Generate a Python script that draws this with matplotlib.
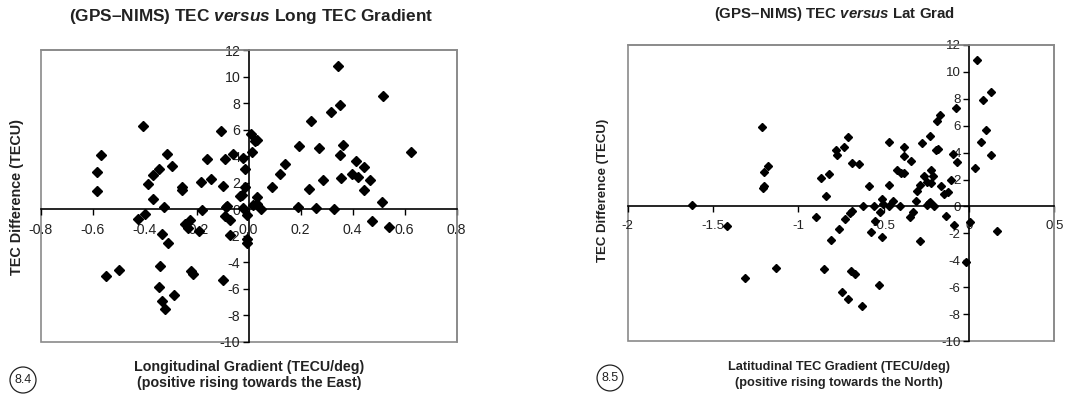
"""Recreate the two (GPS-NIMS) TEC gradient scatter panels."""

import matplotlib.pyplot as plt
from matplotlib.patches import Rectangle

plt.rcParams["font.family"] = ["Liberation Sans", "DejaVu Sans"]
plt.rcParams["mathtext.fontset"] = "custom"
plt.rcParams["mathtext.rm"] = "Liberation Sans:bold"
plt.rcParams["mathtext.it"] = "Liberation Sans:italic:bold"

# Panel 8.4: longitudinal gradient (TECU/deg) vs TEC difference (TECU)
long_grad = [
    0.342, 0.515, 0.351, 0.315, 0.241, -0.408, -0.108, 0.008, 0.026, 0.033,
    0.194, 0.269, 0.362, 0.626, 0.014, -0.568, -0.313, -0.059, 0.350, -0.159,
    -0.091, -0.023, 0.412, 0.140, -0.295, 0.445, -0.346, -0.585, -0.013, 0.121,
    -0.369, 0.399, 0.422, 0.354, 0.286, 0.467, -0.145, -0.182, -0.387, -0.258,
    -0.258, -0.097, 0.090, -0.013, 0.231, -0.585, 0.445, -0.024, -0.033, 0.033,
    -0.368, 0.514, -0.324, -0.088, 0.018, 0.031, 0.188, 0.259, 0.327, -0.179,
    -0.023, 0.046, -0.399, -0.427, -0.092, -0.008, 0.476, -0.072, -0.226, -0.244,
    -0.232, -0.192, 0.541, -0.332, -0.072, -0.312, -0.005, -0.005, -0.341, -0.549,
    -0.500, -0.223, -0.213, -0.100, -0.346, -0.287, -0.332, -0.321, -0.085,
]
long_diff = [
    10.83, 8.52, 7.86, 7.34, 6.63, 6.26, 5.93, 5.65, 5.15, 5.20,
    4.80, 4.62, 4.82, 4.35, 4.35, 4.10, 4.20, 4.20, 4.12, 3.82,
    3.82, 3.89, 3.64, 3.44, 3.29, 3.19, 3.07, 2.84, 3.07, 2.66,
    2.56, 2.66, 2.46, 2.36, 2.19, 2.19, 2.29, 2.09, 1.91, 1.66,
    1.43, 1.78, 1.66, 1.66, 1.56, 1.41, 1.46, 1.10, 1.00, 0.90,
    0.75, 0.58, 0.18, 0.18, 0.35, 0.43, 0.18, 0.10, 0.03, -0.08,
    0.10, 0.03, -0.33, -0.70, -0.48, -0.43, -0.90, -0.83, -0.78, -1.08,
    -1.43, -1.61, -1.36, -1.86, -1.91, -2.54, -2.24, -2.56, -4.25, -5.05,
    -4.60, -4.67, -4.90, -5.35, -5.85, -6.46, -6.91, -7.54, 0.23,
]

# Panel 8.5: latitudinal gradient (TECU/deg) vs TEC difference (TECU)
lat_grad = [
    0.049, 0.127, 0.082, -0.078, -0.172, -0.188, -1.211, 0.100, -0.709, -0.229,
    -0.467, -0.277, 0.068, -0.732, -0.383, -0.779, -0.191, -0.182, -0.771, -0.096,
    0.127, -0.383, -0.340, -0.070, -1.178, -0.684, -0.646, 0.037, -1.201, -0.420,
    -0.396, -0.383, -0.221, -0.818, -0.865, -0.262, -0.211, -0.105, -0.244, -0.225,
    -0.467, -0.586, -1.203, -1.209, -0.289, -0.162, -0.303, -0.148, -0.125, -0.838,
    -0.508, -0.443, -0.309, -0.234, -0.227, -1.623, -0.621, -0.555, -0.504, -0.469,
    -0.404, -0.246, -0.203, -0.523, -0.328, -0.898, -0.344, -0.133, -0.688, -0.699,
    -0.725, -0.553, 0.004, -0.088, -1.418, -0.762, -0.572, 0.164, -0.510, -0.807,
    -0.289, -1.131, -0.852, -0.016, -1.311, -0.693, -0.666, -0.527, -0.746, -0.707,
    -0.629,
]
lat_diff = [
    10.85, 8.50, 7.88, 7.31, 6.82, 6.34, 5.90, 5.70, 5.13, 5.20,
    4.76, 4.71, 4.76, 4.39, 4.39, 4.16, 4.16, 4.29, 3.82, 3.92,
    3.82, 3.72, 3.40, 3.32, 3.02, 3.20, 3.12, 2.85, 2.55, 2.68,
    2.45, 2.45, 2.68, 2.40, 2.08, 2.28, 2.28, 1.98, 1.83, 1.73,
    1.61, 1.49, 1.54, 1.36, 1.61, 1.49, 1.12, 0.94, 1.04, 0.74,
    0.57, 0.42, 0.37, 0.25, 0.32, 0.12, 0.07, 0.07, 0.20, 0.07,
    0.07, 0.12, 0.00, -0.40, -0.40, -0.77, -0.77, -0.69, -0.32, -0.45,
    -0.94, -1.07, -1.12, -1.39, -1.44, -1.69, -1.91, -1.81, -2.26, -2.53,
    -2.55, -4.58, -4.68, -4.16, -5.35, -4.76, -5.03, -5.82, -6.39, -6.86,
    -7.43,
]

long_xticks = [-0.8, -0.6, -0.4, -0.2, 0.0, 0.2, 0.4, 0.6, 0.8]
lat_xticks = [-2, -1.5, -1, -0.5, 0, 0.5]
lat_xlabels = ["-2", "-1.5", "-1", "-0.5", "0", "0.5"]
yticks = list(range(-10, 13, 2))


def style_axes(ax, xlim, xticks, xlabels, labelsize):
    ax.set_xlim(*xlim)
    ax.set_ylim(-10, 12)
    ax.set_xticks(xticks)
    ax.set_xticklabels(xlabels)
    ax.set_yticks(yticks)
    ax.set_yticklabels([str(v) for v in yticks])

    # Excel-style: axis lines cross at zero, grey frame round the plot area
    for side in ("left", "bottom"):
        ax.spines[side].set_position("zero")
        ax.spines[side].set_color("black")
        ax.spines[side].set_linewidth(1.2)
    for side in ("top", "right"):
        ax.spines[side].set_color("#8a8a8a")
        ax.spines[side].set_linewidth(1.2)
    ax.add_patch(Rectangle((0, 0), 1, 1, transform=ax.transAxes, fill=False,
                           edgecolor="#8a8a8a", linewidth=1.2, zorder=0.5,
                           clip_on=False))
    ax.tick_params(direction="out", length=4, width=1, colors="black",
                   labelsize=labelsize, labelcolor="#222222")
    ax.tick_params(axis="x", pad=6)
    ax.tick_params(axis="y", pad=2)


fig = plt.figure(figsize=(10.85, 3.94), dpi=100, facecolor="white")

ax1 = fig.add_axes([0.0375, 0.132, 0.3834, 0.741])
ax1.plot(long_grad, long_diff, "D", color="black", markersize=4.6, zorder=3)
style_axes(ax1, (-0.8, 0.8), long_xticks, [f"{v:.1f}" for v in long_xticks], 10.2)

ax2 = fig.add_axes([0.5785, 0.1345, 0.3932, 0.7513])
ax2.plot(lat_grad, lat_diff, "D", color="black", markersize=4.4, zorder=3)
style_axes(ax2, (-2, 0.5), lat_xticks, lat_xlabels, 9.5)

fig.text(251 / 1085, 1 - 17 / 394,
         r"(GPS–NIMS) TEC $\mathit{versus}$ Long TEC Gradient",
         va="center", ha="center", fontsize=12.4, fontweight="bold", color="#222222")
fig.text(835 / 1085, 1 - 14 / 394,
         r"(GPS–NIMS) TEC $\mathit{versus}$ Lat Grad",
         va="center", ha="center", fontsize=10.8, fontweight="bold", color="#222222")

fig.text(17 / 1085, 1 - 197 / 394, "TEC Difference (TECU)", rotation=90,
         ha="center", va="center", fontsize=10.4, fontweight="bold", color="#222222")
fig.text(603 / 1085, 1 - 190 / 394, "TEC Difference (TECU)", rotation=90,
         ha="center", va="center", fontsize=9.5, fontweight="bold", color="#222222")
fig.text(249 / 1085, 1 - 375 / 394,
         "Longitudinal Gradient (TECU/deg)\n(positive rising towards the East)",
         ha="center", va="center", linespacing=1.2, fontsize=10.3,
         fontweight="bold", color="#222222")
fig.text(839 / 1085, 1 - 375 / 394,
         "Latitudinal TEC Gradient (TECU/deg)\n(positive rising towards the North)",
         ha="center", va="center", linespacing=1.35, fontsize=9.2,
         fontweight="bold", color="#222222")

circle_kw = dict(fontsize=9, color="#222222", ha="center", va="center",
                 bbox=dict(boxstyle="circle,pad=0.35", facecolor="white",
                           edgecolor="#222222", linewidth=0.9))
fig.text(23 / 1085, 1 - 380 / 394, "8.4", **circle_kw)
fig.text(610 / 1085, 1 - 378 / 394, "8.5", **circle_kw)

fig.savefig("out.png", dpi=100, facecolor="white")
plt.close(fig)
